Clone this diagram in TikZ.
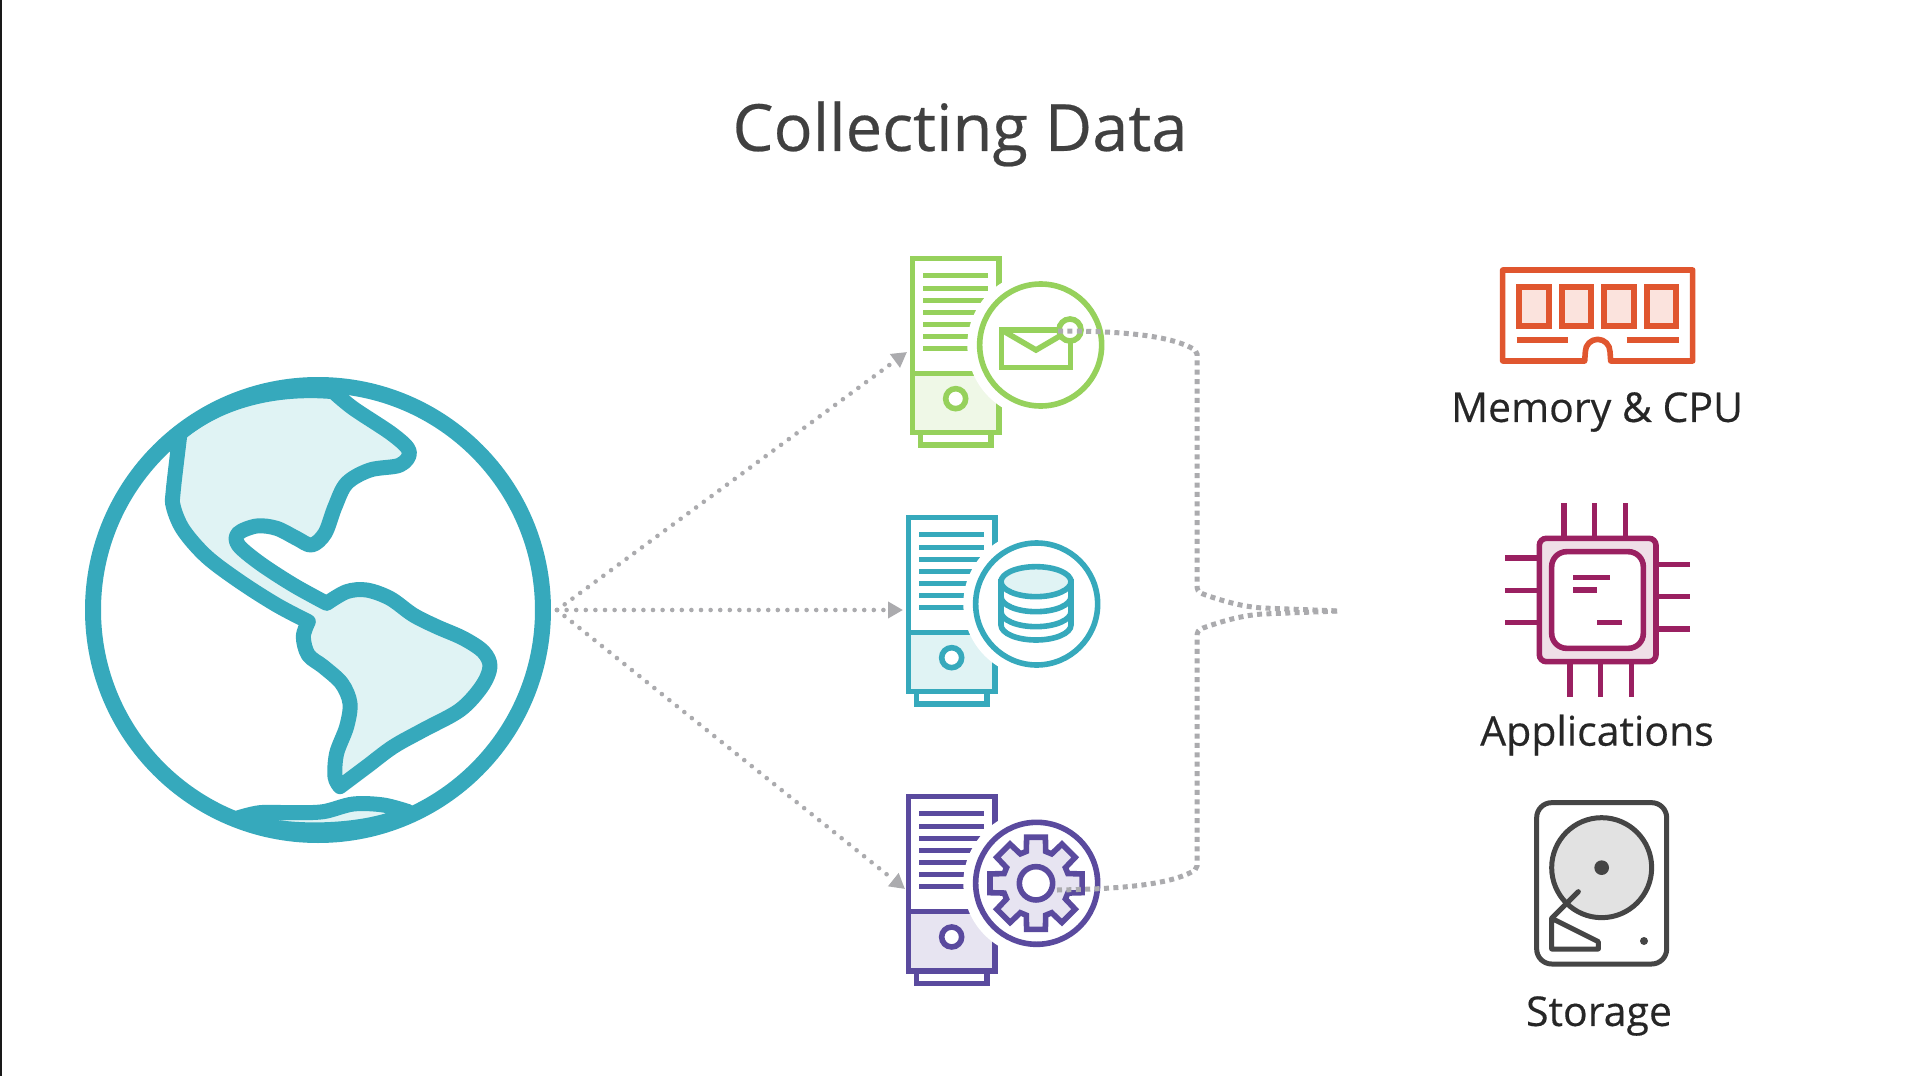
\documentclass[tikz,border=0pt]{standalone}
\usepackage{fontspec}
\setmainfont{Open Sans}
\newfontfamily\semifont[FakeBold=0.35]{Open Sans}
\usetikzlibrary{arrows.meta}
\definecolor{cgreen}{HTML}{96D15C}
\definecolor{lgreen}{HTML}{EFF8E7}
\definecolor{cteal}{HTML}{36A9BC}
\definecolor{lteal}{HTML}{E0F3F4}
\definecolor{cpurple}{HTML}{5A4A9E}
\definecolor{lpurple}{HTML}{E7E4F1}
\definecolor{corange}{HTML}{E0562F}
\definecolor{lorange}{HTML}{FBE3DD}
\definecolor{cmag}{HTML}{9A2061}
\definecolor{lmag}{HTML}{EFDFE7}
\definecolor{cdark}{HTML}{454545}
\definecolor{ldark}{HTML}{E2E2E2}
\definecolor{cdot}{HTML}{ABABAE}
\tikzset{
  zm/.style={x=0.33333pt,y=-0.33333pt},
  arrowdots/.style={cdot,line width=4.6pt,line cap=round,dash pattern=on 0pt off 9.6pt,
    -{Triangle[length=15pt,width=16pt,fill=cdot]}},
  busdots/.style={cdot,line width=5pt,dash pattern=on 5pt off 4.4pt},
  title/.style={font=\semifont\fontsize{65}{70}\selectfont,text=black!75},
  label/.style={font=\semifont\fontsize{41}{46}\selectfont,text=black!85},
}
\newcommand{\servericon}[5]{%
  \begin{scope}[shift={(#1,#2)},zm,line width=5.6pt,#3,line join=miter]
    \draw (122,580) -- (122,615) -- (333,615) -- (333,580);
    \draw[fill=white] (97,55) rectangle (357,578);
    \fill[#4] (97,400) rectangle (357,578);
    \draw (97,55) rectangle (357,578);
    \draw (97,400) -- (357,400);
    \foreach \ly in {107,144,180,216,252,288,324} \draw[line width=5pt] (130,\ly) -- (323,\ly);
    \draw[fill=white] (227,476) circle (30);
    \fill[white] (482,315) circle (220);
    \draw (482,315) circle (183);
    #5
  \end{scope}}
\begin{document}
\begin{tikzpicture}[x=1pt,y=-1pt]
\useasboundingbox (0,0) rectangle (1917,1076);
\fill[white] (0,0) rectangle (1917,1076);
\fill[black!90] (0,0) rectangle (2.2,1076);
\node[title,anchor=center] (ttl) at (960,134) {Collecting Data};

% globe
\begin{scope}[shift={(60,350)},zm,cteal,line join=round,line cap=round]
  \coordinate (globec) at (774,780);
  \path[draw=cteal,fill=lteal,line width=15pt]
    plot[smooth,tension=.55] coordinates {(820,125) (880,175) (1000,255) (1048,305) (1020,345) (930,360) (860,400) (825,470) (795,550) (755,585) (710,565) (650,535) (590,528) (535,550) (535,585) (600,640) (700,705) (800,760)}
    -- plot[smooth,tension=.55] coordinates {(800,760) (860,725) (920,720) (990,745) (1060,795) (1130,830) (1210,865) (1270,905) (1290,950) (1265,1010) (1200,1080) (1090,1140) (1000,1190) (920,1250) (840,1310)}
    -- plot[smooth,tension=.55] coordinates {(840,1310) (825,1280) (830,1210) (860,1130) (870,1060) (845,1000) (790,950) (745,915) (730,860) (745,815)}
    -- plot[smooth,tension=.55] coordinates {(745,815) (650,765) (540,695) (440,620) (370,540) (340,470) (340,420) (360,250)}
    .. controls (480,150) and (650,110) .. (820,125) -- cycle;
  \path[draw=cteal,fill=lteal,line width=15pt]
    plot[smooth,tension=.55] coordinates {(530,1405) (600,1388) (700,1388) (790,1385) (880,1362) (970,1365) (1045,1385)}
    .. controls (960,1440) and (700,1465) .. (530,1405) -- cycle;
  \draw[cteal,line width=16pt] (globec) circle (675);
\end{scope}

% servers
\servericon{880}{240}{cgreen}{lgreen}{%
  \draw (365,270) rectangle (572,382);
  \draw (365,270) -- (468,330) -- (545,285);
  \draw[fill=white] (570,270) circle (33);
}
\servericon{876}{499}{cteal}{lteal}{%
  \draw[fill=white] (375,248) -- (375,378) arc[start angle=180,end angle=0,x radius=105,y radius=45] -- (585,248) -- cycle;
  \draw (375,293) arc[start angle=180,end angle=0,x radius=105,y radius=45];
  \draw (375,338) arc[start angle=180,end angle=0,x radius=105,y radius=45];
  \draw[fill=lteal] (480,248) ellipse[x radius=105,y radius=45];
}
\servericon{876}{778.3}{cpurple}{lpurple}{%
  \begin{scope}[shift={(480,315)}]
    \draw[fill=lpurple] (-17:100)
      \foreach \a in {0,45,...,315}{ -- (\a-17:100) -- (\a-11.5:141) -- (\a+11.5:141) -- (\a+17:100)} -- cycle;
    \draw[fill=white] (0,0) circle (50);
  \end{scope}
}

% memory
\begin{scope}[shift={(1480,250)},zm,line width=5.6pt,corange,line join=round]
  \draw (68,60) -- (638,60) -- (638,333) -- (392,333) -- (390,305)
    arc[start angle=0,end angle=-180,radius=37] -- (314,333) -- (68,333) -- cycle;
  \foreach \cx in {118,245,373,500}
    \draw[fill=lorange,line width=6pt,line join=miter] (\cx,110) rectangle ++(88,118);
  \draw[line width=6.8pt] (110,270) -- (265,270);
  \draw[line width=6.8pt] (440,270) -- (597,270);
\end{scope}

% chip
\begin{scope}[shift={(1480,490)},zm,line width=5.6pt,cmag]
  \foreach \p in {252,344,436} \draw (\p,40) -- (\p,145);
  \foreach \p in {270,362,454} \draw (\p,515) -- (\p,620);
  \foreach \p in {204,301,398} \draw (76,\p) -- (178,\p);
  \foreach \p in {223,320,417} \draw (528,\p) -- (630,\p);
  \draw[fill=lmag,rounded corners=7pt] (178,145) rectangle (528,515);
  \draw[fill=white,rounded corners=15pt] (215,185) rectangle (490,475);
  \draw (280,262) -- (390,262);
  \draw (280,300) -- (352,300);
  \draw (352,398) -- (427,398);
\end{scope}

% disk
\begin{scope}[shift={(1500,790)},zm,line width=5pt,cdark,line join=round]
  \draw[rounded corners=15pt] (110,38) rectangle (500,522);
  \draw[fill=ldark] (305,233) circle (150);
  \fill (305,233) circle (22);
  \fill (432,453) circle (12);
  \draw[line cap=round] (235,305) -- (155,385);
  \draw[fill=white] (155,385) -- (295,455) -- (295,477) -- (155,477) -- cycle;
\end{scope}

\node[label] (lmem) at (1597,412) {Memory \& CPU};
\node[label] (lapp) at (1597,735) {Applications};
\node[label] (lsto) at (1599,1016) {Storage};

% connectors
\coordinate (src) at (557,610);
\coordinate (ag) at (907,352);
\coordinate (at) at (903,610);
\coordinate (ap) at (905,889);
\draw[arrowdots] (src) -- (ag);
\draw[arrowdots] (src) -- (at);
\draw[arrowdots] (src) -- (ap);

\coordinate (mailc) at (1058,331);
\coordinate (gearc) at (1057,890);
\coordinate (busend) at (1339,611);
\draw[busdots] (mailc) .. controls (1112,331) and (1170,334) .. (1195,350)
   -- (1197,354) -- (1197,585) .. controls (1197,590) and (1198,592) .. (1203,594)
   .. controls (1225,602) and (1245,607) .. (1263,608) -- (busend);
\draw[busdots] (gearc) .. controls (1112,889) and (1170,886) .. (1195,870)
   -- (1197,866) -- (1197,637) .. controls (1197,632) and (1198,630) .. (1203,628)
   .. controls (1225,620) and (1245,615) .. (1263,614) -- (busend);
\end{tikzpicture}
\end{document}
